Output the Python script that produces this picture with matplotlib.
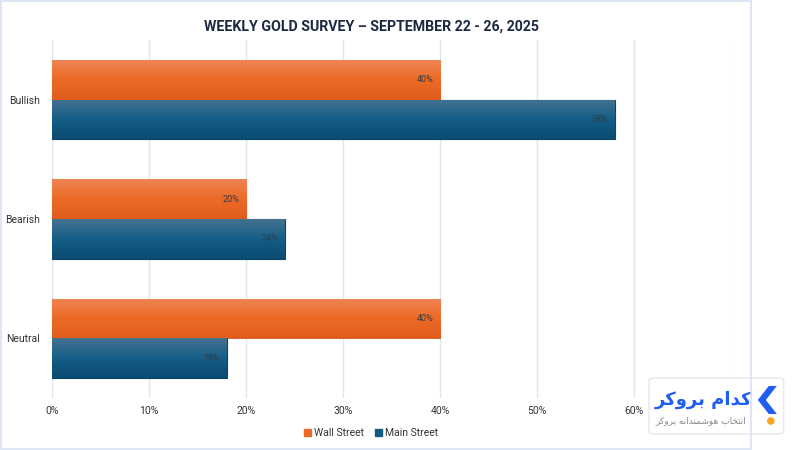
import numpy as np
import matplotlib
matplotlib.use('Agg')
import matplotlib.pyplot as plt
from matplotlib.patches import Rectangle, FancyBboxPatch, Polygon, Circle
from matplotlib.colors import LinearSegmentedColormap
import matplotlib.ticker as ticker

# data
categories = ['Bullish', 'Bearish', 'Neutral']
wall_street = [0.40, 0.20, 0.40]
main_street = [0.58, 0.24, 0.18]
series_names = ['Wall Street', 'Main Street']
title = 'WEEKLY GOLD SURVEY \u2013 SEPTEMBER 22 - 26, 2025'

# logo text (Persian, shaped presentation forms in visual order)
logo_main = '\uFEAE\uFB90\uFEED\uFEAE\uFE91 \uFEE1\uFE8D\uFEAA\uFB90'
logo_sub = ('\uFEAE\uFB90\uFEED\uFEAE\uFE91 '
            '\uFEEA\uFEE7\uFE8D\uFEAA\uFEE8\uFEE4\uFEB7\uFEEE\uFEEB '
            '\uFE8F\uFE8E\uFEA8\uFE98\uFEE7\uFE8D')

orange = '#ec6a28'
blue = '#135a82'
orange_grad = LinearSegmentedColormap.from_list('og', ['#ef8453', '#ec6a26', '#e15c1b'])
blue_grad = LinearSegmentedColormap.from_list('bg', ['#45728f', '#145e87', '#0a4b72'])

plt.rcParams['font.family'] = ['Roboto', 'DejaVu Sans']

fig = plt.figure(figsize=(8, 4.5), dpi=100)
ax = fig.add_axes([0.065, 0.1156, 0.849, 0.7955])

y = np.arange(len(categories))
h = 0.333

bars_ws = ax.barh(y - h / 2, wall_street, height=h, color=orange, edgecolor='#d95a1a', linewidth=0.6, zorder=2)
bars_ms = ax.barh(y + h / 2, main_street, height=h, color=blue, edgecolor='#0a4468', linewidth=0.8, zorder=2)

# vertical gradient fill on each bar
grad = np.linspace(0, 1, 100).reshape(-1, 1)
for bars, cmap in [(bars_ws, orange_grad), (bars_ms, blue_grad)]:
    for b in bars:
        x0, y0 = b.get_x(), b.get_y()
        w, hh = b.get_width(), b.get_height()
        im = ax.imshow(grad, cmap=cmap, aspect='auto', extent=[x0, x0 + w, y0 + hh, y0],
                       zorder=2.5, interpolation='bicubic')
        im.set_clip_path(b)

for bars, vals in [(bars_ws, wall_street), (bars_ms, main_street)]:
    for b, v in zip(bars, vals):
        ax.annotate(f'{v:.0%}', xy=(v, b.get_y() + b.get_height() / 2), xytext=(-5, 0),
                    textcoords='offset points', ha='right', va='center', fontsize=6.5,
                    color='#3a3a3a', zorder=4)

ax.set_xlim(0, 0.7)
ax.set_ylim(2.5, -0.5)
ax.set_yticks(y)
ax.set_yticklabels(categories)
ax.xaxis.set_major_locator(ticker.MultipleLocator(0.1))
# the 70% label sits under the logo in the original
ax.xaxis.set_major_formatter(ticker.FuncFormatter(lambda v, _: f'{v:.0%}' if v < 0.65 else ''))
ax.tick_params(length=0, labelsize=7.5, colors='#333333')
ax.tick_params(axis='x', pad=6)
ax.tick_params(axis='y', pad=9)
ax.grid(axis='x', color='#dde6f3', linewidth=1, zorder=0)
ax.set_axisbelow(True)
for s in ax.spines.values():
    s.set_visible(False)

# legend
handles = [Rectangle((0, 0), 1, 1, color=orange), Rectangle((0, 0), 1, 1, color=blue)]
fig.legend(handles, series_names, loc='center', bbox_to_anchor=(0.464, 0.038), ncol=2,
           frameon=False, fontsize=7.5, handlelength=0.7, handleheight=0.7,
           handletextpad=0.3, columnspacing=1.0, labelcolor='#333333')

fig.text(0.464, 0.942, title, ha='center', va='center', fontsize=10.2,
         fontweight='bold', color='#1b2a40')

# chart border
fig.patches.append(Rectangle((0.001, 0.003), 0.938, 0.995, transform=fig.transFigure,
                             fill=False, edgecolor='#d5e1f2', linewidth=1.2))

# logo box
lax = fig.add_axes([0.81, 0.0333, 0.171, 0.129])
lax.set_xlim(0, 137)
lax.set_ylim(58, 0)
lax.axis('off')
lax.add_patch(FancyBboxPatch((1, 1), 135, 56, boxstyle='round,pad=0,rounding_size=4',
                             facecolor='white', edgecolor='#e2e2e2', linewidth=0.8))
lax.text(104, 23, logo_main, ha='right', va='center', fontsize=13, fontweight='bold',
         color='#1f5ef0', family=['DejaVu Sans'])
lax.text(98, 44, logo_sub, ha='right', va='center', fontsize=6.5, color='#8a8a8a',
         family=['DejaVu Sans'])
lax.add_patch(Polygon([(121, 9), (129, 9), (118, 23), (129, 37), (121, 37), (110, 23)],
                      closed=True, facecolor='#1f5ef0', edgecolor='none'))
lax.add_patch(Circle((123, 44), 3.8, facecolor='#f6a623', edgecolor='none'))

fig.savefig('out.png', dpi=100)
